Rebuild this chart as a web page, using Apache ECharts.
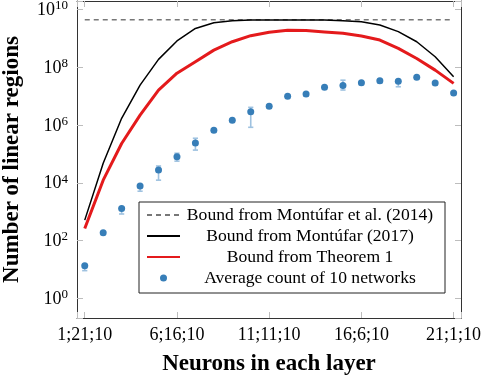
<!DOCTYPE html>
<html lang="en">
<head>
    <meta charset="utf-8">
    <title>linearRegions</title>
    <script src="https://cdn.jsdelivr.net/npm/echarts@6/dist/echarts.min.js"></script>
    <style>
        html, body { margin: 0; padding: 0; background: #fff; }
        #main { width: 482px; height: 378px; }
    </style>
</head>
<body>
<div id="main"></div>
<script>
    // 横坐标：每层神经元个数
    var categories = ['1;21;10', '2;20;10', '3;19;10', '4;18;10', '5;17;10', '6;16;10', '7;15;10',
        '8;14;10', '9;13;10', '10;12;10', '11;11;10', '12;10;10', '13;9;10', '14;8;10', '15;7;10',
        '16;6;10', '17;5;10', '18;4;10', '19;3;10', '20;2;10', '21;1;10'];

    var yTickExponents = [0, 2, 4, 6, 8, 10];

    // Bound from Montúfar et al. (2014)
    var bound2014 = [4.4e9, 4.4e9, 4.4e9, 4.4e9, 4.4e9, 4.4e9, 4.4e9, 4.4e9, 4.4e9, 4.4e9, 4.4e9,
        4.4e9, 4.4e9, 4.4e9, 4.4e9, 4.4e9, 4.4e9, 4.4e9, 4.4e9, 4.4e9, 4.4e9];
    // Bound from Montúfar (2017)
    var bound2017 = [5.1e2, 4.7e4, 1.7e6, 2.4e7, 1.86e8, 8.1e8, 2.19e9, 3.47e9, 4.07e9, 4.27e9, 4.27e9,
        4.27e9, 4.27e9, 4.27e9, 4.07e9, 3.72e9, 2.88e9, 1.7e9, 7.6e8, 2.29e8, 4.7e7];
    // Bound from Theorem 1
    var boundThm1 = [2.6e2, 1.23e4, 2.29e5, 2.19e6, 1.62e7, 6.17e7, 1.55e8, 3.89e8, 7.59e8, 1.23e9, 1.62e9,
        1.91e9, 1.86e9, 1.66e9, 1.48e9, 1.2e9, 8.7e8, 4.47e8, 2.0e8, 7.9e7, 2.75e7];
    // Average count of 10 networks, with low / high of the error bars
    var avgCount = [13.5, 186, 1290, 7760, 2.75e4, 7.94e4, 2.4e5, 6.61e5, 1.45e6, 2.88e6, 4.47e6,
        9.77e6, 1.17e7, 2.0e7, 2.34e7, 2.88e7, 3.39e7, 3.24e7, 4.47e7, 2.82e7, 1.29e7];
    var errLow = [9.1, 166, 830, 5100, 1.23e4, 5.6e4, 1.35e5, 5.75e5, 1.26e6, 8.3e5, 3.8e6,
        8.5e6, 1.0e7, 1.74e7, 1.62e7, 2.5e7, 2.9e7, 2.1e7, 4.0e7, 2.5e7, 1.12e7];
    var errHigh = [15, 200, 1450, 8500, 3.8e4, 1.05e5, 3.47e5, 7.25e5, 1.55e6, 4.07e6, 5.0e6,
        1.07e7, 1.29e7, 2.19e7, 3.55e7, 3.16e7, 3.8e7, 3.6e7, 4.8e7, 3.1e7, 1.41e7];

    var serif = 'Liberation Serif';

    function toPoints(values) {
        return values.map(function (v, i) { return [i, Math.log10(v)]; });
    }

    var errData = avgCount.map(function (v, i) {
        return [i, Math.log10(errLow[i]), Math.log10(errHigh[i])];
    });

    function renderErrorBar(params, api) {
        var x = api.value(0);
        var lo = api.coord([x, api.value(1)]);
        var hi = api.coord([x, api.value(2)]);
        var w = 2.6;
        var style = {stroke: '#9fc2e0', lineWidth: 1.6};
        return {
            type: 'group',
            children: [
                {type: 'line', shape: {x1: lo[0], y1: lo[1], x2: hi[0], y2: hi[1]}, style: style},
                {type: 'line', shape: {x1: lo[0] - w, y1: lo[1], x2: lo[0] + w, y2: lo[1]}, style: style},
                {type: 'line', shape: {x1: hi[0] - w, y1: hi[1], x2: hi[0] + w, y2: hi[1]}, style: style}
            ]
        };
    }

    var axisLine = {show: true, onZero: false, lineStyle: {color: '#333', width: 1}};
    var tick = {show: true, inside: true, length: 6, lineStyle: {color: '#bdbdbd', width: 1}};

    var myChart = echarts.init(document.getElementById('main'));

    var option = {
        animation: false,
        grid: {left: 77, right: 21, top: 1, bottom: 60, containLabel: false, outerBoundsMode: 'none'},
        legend: {
            orient: 'vertical',
            left: 139,
            top: 202,
            padding: [4, 10, 6, 7],
            itemGap: 3,
            itemWidth: 33,
            itemHeight: 7,
            backgroundColor: '#fff',
            borderColor: '#222',
            borderWidth: 1,
            borderRadius: 0,
            formatter: function (name) { return '{c|' + name + '}'; },
            textStyle: {
                fontFamily: serif, fontSize: 17.6, color: '#000',
                rich: {c: {width: 250, align: 'center', fontFamily: serif, fontSize: 17.6, lineHeight: 20, color: '#000'}}
            },
            // 线条图例只显示线，不显示圆点
            data: [
                {name: 'Bound from Montúfar et al. (2014)', itemStyle: {opacity: 0}},
                {name: 'Bound from Montúfar (2017)', itemStyle: {opacity: 0}},
                {name: 'Bound from Theorem 1', itemStyle: {opacity: 0}},
                {name: 'Average count of 10 networks'}
            ]
        },
        xAxis: [{
            type: 'value',
            position: 'bottom',
            min: -0.42,
            max: 20.4,
            splitNumber: 4,
            axisLine: axisLine,
            axisTick: tick,
            splitLine: {show: false},
            axisLabel: {
                margin: 8,
                fontFamily: serif,
                fontSize: 18,
                color: '#000',
                formatter: function (v) {
                    return Math.abs(v - Math.round(v)) < 1e-6 ? (categories[Math.round(v)] || '') : '';
                }
            },
            name: 'Neurons in each layer',
            nameLocation: 'middle',
            nameGap: 35,
            nameTextStyle: {fontFamily: serif, fontWeight: 'bold', fontSize: 23, color: '#000'}
        }, {
            type: 'value',
            position: 'top',
            min: -0.42,
            max: 20.4,
            splitNumber: 4,
            axisLine: axisLine,
            axisTick: tick,
            splitLine: {show: false},
            axisLabel: {show: false}
        }],
        yAxis: [{
            type: 'value',
            position: 'left',
            min: -0.68,
            max: 10.29,
            splitNumber: 5,
            axisLine: axisLine,
            axisTick: tick,
            splitLine: {show: false},
            axisLabel: {
                margin: 9,
                formatter: function (v) {
                    var e = Math.round(v);
                    if (Math.abs(v - e) > 1e-6 || yTickExponents.indexOf(e) < 0) return '';
                    return '{b|10}{s|' + e + '}';
                },
                rich: {
                    b: {fontFamily: serif, fontSize: 18, color: '#000', lineHeight: 20, verticalAlign: 'bottom'},
                    s: {fontFamily: serif, fontSize: 13, color: '#000', lineHeight: 13, verticalAlign: 'top', padding: [0, 0, 13, 0]}
                }
            },
            name: 'Number of linear regions',
            nameLocation: 'middle',
            nameGap: 53,
            nameRotate: 90,
            nameTextStyle: {fontFamily: serif, fontWeight: 'bold', fontSize: 23, color: '#000'}
        }, {
            type: 'value',
            position: 'right',
            min: -0.68,
            max: 10.29,
            splitNumber: 5,
            axisLine: axisLine,
            axisTick: tick,
            splitLine: {show: false},
            axisLabel: {show: false}
        }],
        series: [
            {
                name: 'Bound from Montúfar et al. (2014)',
                type: 'line',
                symbol: 'none',
                data: toPoints(bound2014),
                lineStyle: {color: '#777', width: 1.4, type: [5, 4]},
                itemStyle: {color: '#777'},
                z: 2
            },
            {
                name: 'Bound from Montúfar (2017)',
                type: 'line',
                symbol: 'none',
                data: toPoints(bound2017),
                lineStyle: {color: '#000', width: 1.5},
                itemStyle: {color: '#000'},
                z: 3
            },
            {
                name: 'Bound from Theorem 1',
                type: 'line',
                symbol: 'none',
                data: toPoints(boundThm1),
                lineStyle: {color: '#e41a1c', width: 3},
                itemStyle: {color: '#e41a1c'},
                z: 4
            },
            {
                name: 'error',
                type: 'custom',
                renderItem: renderErrorBar,
                data: errData,
                z: 5
            },
            {
                name: 'Average count of 10 networks',
                type: 'scatter',
                symbol: 'circle',
                symbolSize: 7,
                data: toPoints(avgCount),
                itemStyle: {color: '#377eb8', opacity: 1},
                z: 6
            }
        ]
    };

    myChart.setOption(option);
</script>
</body>
</html>
